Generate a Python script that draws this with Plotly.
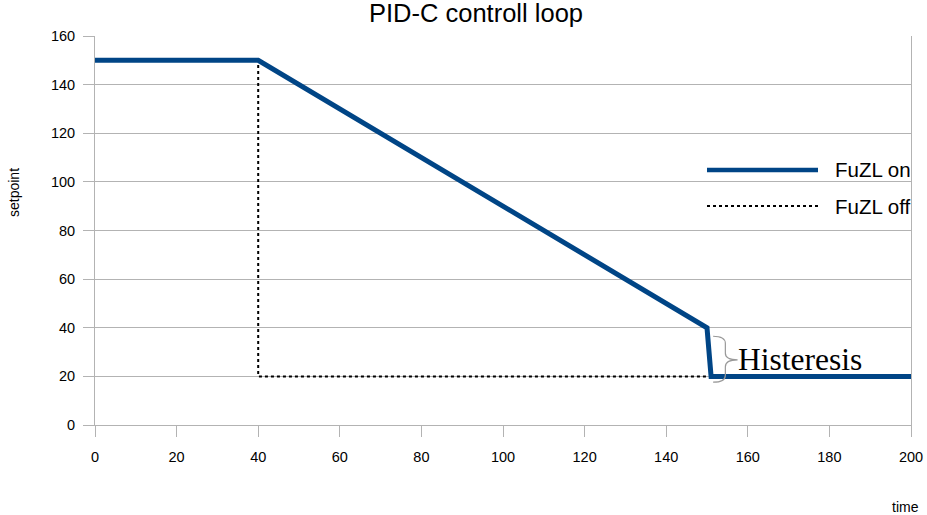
import plotly.graph_objects as go

on_time = [0, 40, 150, 151, 200]
on_value = [150, 150, 40, 20, 20]
off_time = [0, 40, 40, 150]
off_value = [150, 150, 20, 20]
x_ticks = [0, 20, 40, 60, 80, 100, 120, 140, 160, 180, 200]
y_ticks = [0, 20, 40, 60, 80, 100, 120, 140, 160]

BLUE = "#004586"
GRID = "#b3b3b3"
FONT = "Liberation Sans, Arial, sans-serif"

fig = go.Figure()
fig.add_trace(go.Scatter(x=off_time, y=off_value, mode="lines", name="FuZL off",
                         line=dict(color="black", width=2, dash="dot"), showlegend=False))
fig.add_trace(go.Scatter(x=on_time, y=on_value, mode="lines", name="FuZL on",
                         line=dict(color=BLUE, width=5), showlegend=False))

W, H = 927, 515
l, r, t, b = 95, 16, 36, 90
pw, ph = W - l - r, H - t - b
def px(x): return (x - l) / pw
def py(y): return (H - b - y) / ph

# Manual legend (paper coords)
fig.add_shape(type="line", xref="paper", yref="paper", x0=px(707), x1=px(818), y0=py(170), y1=py(170),
              line=dict(color=BLUE, width=4.5))
fig.add_shape(type="line", xref="paper", yref="paper", x0=px(707), x1=px(818), y0=py(206), y1=py(206),
              line=dict(color="black", width=2, dash="dot"))
fig.add_annotation(xref="paper", yref="paper", x=px(833), y=py(170), text="FuZL on", showarrow=False,
                   xanchor="left", yanchor="middle", font=dict(family=FONT, size=20.5, color="black"))
fig.add_annotation(xref="paper", yref="paper", x=px(833), y=py(206), text="FuZL off", showarrow=False,
                   xanchor="left", yanchor="middle", font=dict(family=FONT, size=20.5, color="black"))

# Brace and Histeresis label
fig.add_shape(type="path", xref="x", yref="y",
              path="M 151.5,36.5 Q 154.5,36.5 154.5,33.5 L 154.5,29.5 Q 154.5,26.8 157.5,26.8 "
                   "Q 154.5,26.8 154.5,24 L 154.5,20.5 Q 154.5,17.6 151.5,17.6",
              line=dict(color="#999999", width=1.2))
fig.add_annotation(x=157.2, y=26.8, xref="x", yref="y", text="Histeresis", showarrow=False,
                   xanchor="left", yanchor="middle",
                   font=dict(family="Liberation Serif, Times New Roman, serif", size=31.5, color="black"))

fig.add_annotation(xref="paper", yref="paper", x=px(921), y=py(507), text="time", showarrow=False,
                   xanchor="right", yanchor="middle", font=dict(family=FONT, size=14, color="black"))
fig.add_annotation(xref="paper", yref="paper", x=px(14), y=py(193), text="setpoint", showarrow=False,
                   textangle=-90, xanchor="center", yanchor="middle",
                   font=dict(family=FONT, size=14, color="black"))

fig.update_layout(
    width=W, height=H,
    margin=dict(l=l, r=r, t=t, b=b, autoexpand=False),
    paper_bgcolor="white", plot_bgcolor="white",
    title=dict(text="PID-C controll loop", x=476 / W, xanchor="center", y=1 - 13 / H, yanchor="middle",
               font=dict(family=FONT, size=25.5, color="black")),
    font=dict(family=FONT, size=14, color="black"),
    xaxis=dict(range=[0, 200], tickvals=x_ticks, ticks="outside", ticklen=11, tickcolor=GRID,
               showgrid=False, showline=True, linecolor=GRID, linewidth=1, zeroline=False,
               tickfont=dict(size=14.5), ticklabelstandoff=8, automargin=False),
    yaxis=dict(range=[0, 160], tickvals=y_ticks, ticks="outside", ticklen=11, tickcolor=GRID,
               showgrid=True, gridcolor=GRID, gridwidth=1, showline=True, linecolor=GRID,
               linewidth=1, mirror=True, zeroline=False, tickfont=dict(size=14.5),
               ticklabelstandoff=5, automargin=False),
)

fig.write_html("out.html", config={"displayModeBar": False},
               post_script="document.body.style.margin='0';document.body.style.padding='0';")
